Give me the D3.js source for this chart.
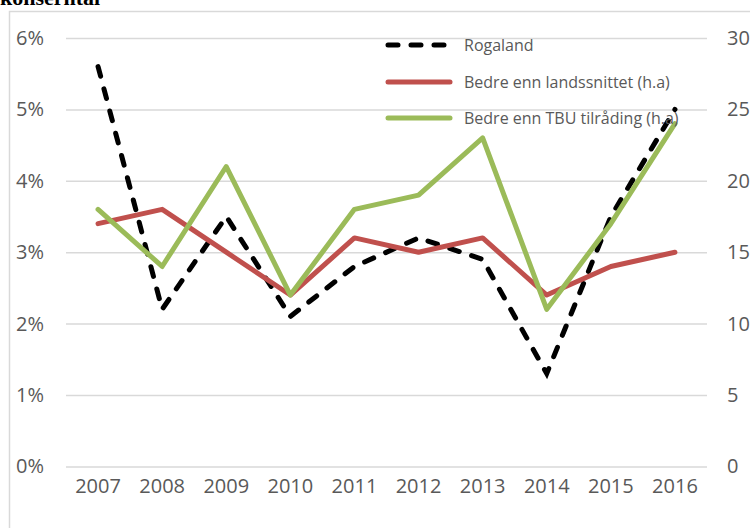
<!DOCTYPE html>
<html>
<head>
<meta charset="utf-8">
<script src="https://cdn.jsdelivr.net/npm/d3@7"></script>
<style>
  body { margin: 0; background: #fff; }
  text { font-family: "Open Sans", sans-serif; fill: #595959; }
</style>
</head>
<body>
<div id="chart"></div>
<script>
// Chart data
const years = [2007, 2008, 2009, 2010, 2011, 2012, 2013, 2014, 2015, 2016];
const rogaland = [5.6, 2.2, 3.5, 2.1, 2.8, 3.2, 2.9, 1.3, 3.5, 5.0];      // %, left axis
const landssnitt = [17, 18, 15, 12, 16, 15, 16, 12, 14, 15];              // right axis
const tbu = [18, 14, 21, 12, 18, 19, 23, 11, 17, 24];                     // right axis
const leftTicks = [0, 1, 2, 3, 4, 5, 6];
const rightTicks = [0, 5, 10, 15, 20, 25, 30];
const legendNames = ["Rogaland", "Bedre enn landssnittet (h.a)", "Bedre enn TBU tilråding (h.a)"];

const width = 750;
const height = 528;
const plot = {left: 66, right: 707, top: 38, bottom: 466.4};

const svg = d3.select("#chart")
  .append("svg")
  .attr("width", width)
  .attr("height", height);

// title, cut off at the top like in the source
svg.append("text")
  .attr("x", 0)
  .attr("y", 5)
  .style("font-family", "'Liberation Serif', serif")
  .style("font-weight", "bold")
  .style("font-size", "22px")
  .style("fill", "#000")
  .text("konserntal");

// chart frame
svg.append("rect")
  .attr("x", 9.5)
  .attr("y", 11.5)
  .attr("width", 800)
  .attr("height", 600)
  .attr("fill", "none")
  .attr("stroke", "#d9d9d9")
  .attr("stroke-width", 1.5);

// Scales
const xScale = d3.scaleBand()
  .domain(years)
  .range([plot.left, plot.right]);
const xc = d => xScale(d) + xScale.bandwidth() / 2;

const yLeft = d3.scaleLinear()
  .domain([0, 6])
  .range([plot.bottom, plot.top]);

const yRight = d3.scaleLinear()
  .domain([0, 30])
  .range([plot.bottom, plot.top]);

// gridlines
svg.append("g")
  .attr("transform", `translate(${plot.left},0)`)
  .call(d3.axisRight(yLeft).tickValues(leftTicks).tickSize(plot.right - plot.left).tickFormat(""))
  .call(g => g.select(".domain").remove())
  .call(g => g.selectAll("line").attr("stroke", "#d9d9d9").attr("stroke-width", 1.5));

// left axis
svg.append("g")
  .attr("transform", "translate(44,0)")
  .call(d3.axisLeft(yLeft).tickValues(leftTicks).tickSize(0).tickPadding(0).tickFormat(d => d + "%"))
  .call(g => g.select(".domain").remove())
  .selectAll("text")
    .style("font-size", "20px")
    .style("fill", "#595959");

// right axis
svg.append("g")
  .attr("transform", "translate(727,0)")
  .call(d3.axisRight(yRight).tickValues(rightTicks).tickSize(0).tickPadding(0))
  .call(g => g.select(".domain").remove())
  .selectAll("text")
    .style("font-size", "20px")
    .style("fill", "#595959");

// bottom axis
svg.append("g")
  .attr("transform", `translate(0,${plot.bottom})`)
  .call(d3.axisBottom(xScale).tickSize(0).tickPadding(12))
  .call(g => g.select(".domain").remove())
  .selectAll("text")
    .style("font-size", "20px")
    .style("fill", "#595959");

// Lines
const lineLeft = d3.line()
  .x((d, i) => xc(years[i]))
  .y(d => yLeft(d));

const lineRight = d3.line()
  .x((d, i) => xc(years[i]))
  .y(d => yRight(d));

svg.append("path")
  .datum(rogaland)
  .attr("d", lineLeft)
  .attr("fill", "none")
  .attr("stroke", "#000")
  .attr("stroke-width", 5)
  .attr("stroke-linecap", "round")
  .attr("stroke-dasharray", "10,13");

svg.append("path")
  .datum(landssnitt)
  .attr("d", lineRight)
  .attr("fill", "none")
  .attr("stroke", "#C0504D")
  .attr("stroke-width", 5)
  .attr("stroke-linejoin", "round")
  .attr("stroke-linecap", "round");

svg.append("path")
  .datum(tbu)
  .attr("d", lineRight)
  .attr("fill", "none")
  .attr("stroke", "#9BBB59")
  .attr("stroke-width", 5)
  .attr("stroke-linejoin", "round")
  .attr("stroke-linecap", "round");

// Legend
const legendColors = ["#000", "#C0504D", "#9BBB59"];
const legendY = [45, 82, 118];

const legend = svg.selectAll(".legend")
  .data(legendNames)
  .enter()
  .append("g")
    .attr("class", "legend")
    .attr("transform", (d, i) => `translate(388,${legendY[i]})`);

legend.append("line")
  .attr("x1", 0)
  .attr("x2", 62)
  .attr("stroke", (d, i) => legendColors[i])
  .attr("stroke-width", 5)
  .attr("stroke-linecap", "round")
  .attr("stroke-dasharray", (d, i) => i === 0 ? "10,13" : null);

legend.append("text")
  .attr("x", 76)
  .attr("dy", "0.35em")
  .style("font-size", "16px")
  .text(d => d);
</script>
</body>
</html>
